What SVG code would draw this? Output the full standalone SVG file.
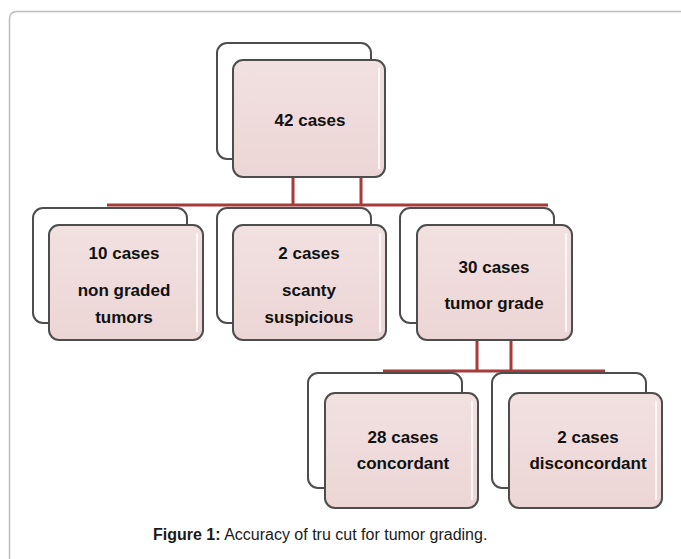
<svg xmlns="http://www.w3.org/2000/svg" width="681" height="559" viewBox="0 0 681 559">
<defs>
<linearGradient id="pk" x1="0" y1="0" x2="0" y2="1">
<stop offset="0" stop-color="#f2e1e1"/>
<stop offset="1" stop-color="#ecd5d5"/>
</linearGradient>
</defs>
<style>
.back{fill:#ffffff;stroke:#4d4d4d;stroke-width:2}
.front{fill:url(#pk);stroke:#4d4d4d;stroke-width:2}
.hl{fill:none;stroke:#ffffff;stroke-width:2;opacity:0.8}
.lbl{font-family:"Liberation Sans",Arial,sans-serif;font-weight:bold;font-size:17px;fill:#111111;text-anchor:middle}
.con{stroke:#a83a3a;stroke-width:3;fill:none}
.cap{font-family:"Liberation Sans",Arial,sans-serif;font-size:16px;fill:#1a1a1a}
</style>
<rect width="681" height="559" fill="#ffffff"/>
<path d="M9.5 559 V19 Q9.5 11.5 17 11.5 H681" fill="none" stroke="#bdbdbd" stroke-width="1.5"/>
<g id="connectors">
<path class="con" d="M293 177 V205 M361 177 V205 M107 205 H548"/>
<path class="con" d="M477 340 V371 M511 340 V371 M383 371 H605"/>
</g>
<g id="n42">
<rect class="back" x="217" y="43" width="154" height="116" rx="10"/>
<rect class="front" x="233" y="60" width="152" height="117" rx="10"/>
<path class="hl" d="M379 68 V169"/>
<text class="lbl" x="310" y="126">42 cases</text>
</g>
<g id="n10">
<rect class="back" x="33" y="208" width="154" height="115" rx="10"/>
<rect class="front" x="49" y="225" width="154" height="115" rx="10"/>
<path class="hl" d="M197 233 V332"/>
<text class="lbl" x="124" y="259">10 cases</text>
<text class="lbl" x="124" y="296">non graded</text>
<text class="lbl" x="124" y="323">tumors</text>
</g>
<g id="n2a">
<rect class="back" x="217" y="208" width="154" height="115" rx="10"/>
<rect class="front" x="233" y="225" width="153" height="115" rx="10"/>
<path class="hl" d="M380 233 V332"/>
<text class="lbl" x="309" y="259">2 cases</text>
<text class="lbl" x="309" y="296">scanty</text>
<text class="lbl" x="309" y="323">suspicious</text>
</g>
<g id="n30">
<rect class="back" x="400" y="208" width="154" height="115" rx="10"/>
<rect class="front" x="417" y="225" width="155" height="115" rx="10"/>
<path class="hl" d="M566 233 V332"/>
<text class="lbl" x="494" y="273">30 cases</text>
<text class="lbl" x="494" y="309">tumor grade</text>
</g>
<g id="n28">
<rect class="back" x="308" y="373" width="154" height="115" rx="10"/>
<rect class="front" x="325" y="393" width="153" height="115" rx="10"/>
<path class="hl" d="M472 401 V500"/>
<text class="lbl" x="403" y="443">28 cases</text>
<text class="lbl" x="403" y="469">concordant</text>
</g>
<g id="n2b">
<rect class="back" x="492" y="373" width="154" height="115" rx="10"/>
<rect class="front" x="509" y="393" width="153" height="115" rx="10"/>
<path class="hl" d="M656 401 V500"/>
<text class="lbl" x="588" y="443">2 cases</text>
<text class="lbl" x="588" y="469">disconcordant</text>
</g>
<text class="cap" x="153" y="540"><tspan font-weight="bold">Figure 1:</tspan> Accuracy of tru cut for tumor grading.</text>
</svg>
